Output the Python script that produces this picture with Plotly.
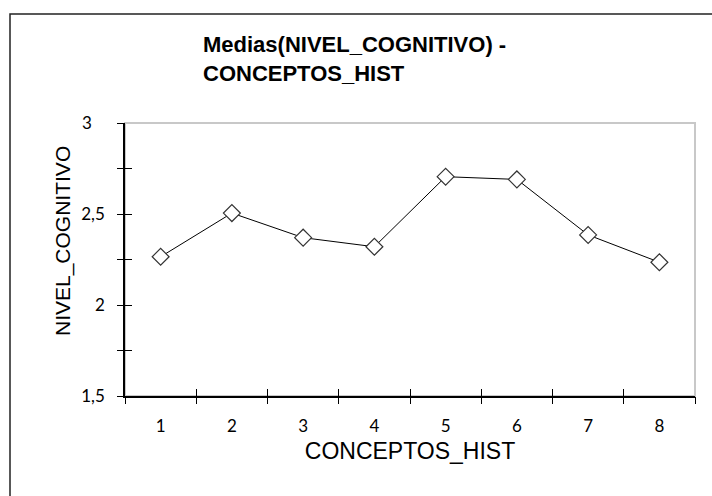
import plotly.graph_objects as go

# Mean cognitive level per historical concept
conceptos = [1, 2, 3, 4, 5, 6, 7, 8]
nivel_medio = [2.265, 2.505, 2.37, 2.32, 2.705, 2.69, 2.385, 2.235]
y_ticks = [1.5, 2, 2.5, 3]
y_ticktext = ["1,5", "2", "2,5", "3\u00a0\u00a0\u00a0"]

W, H = 712, 496
ML, MR, MT, MB = 125, 17, 123, 100
pw, ph = W - ML - MR, H - MT - MB

fig = go.Figure()
fig.add_trace(go.Scatter(
    x=conceptos, y=nivel_medio, mode="lines+markers",
    line=dict(color="black", width=1),
    marker=dict(symbol="diamond", size=13, color="white",
                line=dict(color="#333333", width=1.2)),
    showlegend=False, hoverinfo="x+y",
))
# helper traces so the overlay axes (cross tick marks) are drawn
for ax in ("2", "3"):
    fig.add_trace(go.Scatter(x=conceptos, y=nivel_medio, xaxis="x" + ax, yaxis="y" + ax,
                             mode="markers", marker=dict(opacity=0), showlegend=False,
                             hoverinfo="skip"))

xr = [0.5, 8.5]
yr = [1.5, 3]
tickfont = dict(family="Lato", size=17, color="black")
bounds = [i + 0.5 for i in range(0, 9)]
minor_y = [1.5 + 0.25 * i for i in range(7)]


def tick_axis(rng, vals, kind, overlay, anchor, side):
    return dict(range=rng, overlaying=overlay, anchor=anchor, side=side,
                tickvals=vals, ticks=kind, ticklen=7, tickwidth=1.2,
                tickcolor="black", showticklabels=False, showgrid=False,
                zeroline=False, showline=False)


fig.update_layout(
    width=W, height=H,
    margin=dict(l=ML, r=MR, t=MT, b=MB),
    paper_bgcolor="white", plot_bgcolor="white",
    title=dict(
        text="Medias(NIVEL_COGNITIVO) -<br>CONCEPTOS_HIST",
        font=dict(family="Liberation Sans", size=22, color="black", weight="bold"),
        xref="container", yref="container",
        x=203 / W, xanchor="left", y=1 - 52 / H, yanchor="top",
    ),
    xaxis=dict(
        range=xr, tickvals=conceptos, ticktext=[str(c) for c in conceptos],
        ticks="", showgrid=False, zeroline=False,
        showline=True, linecolor="black", linewidth=1.5,
        tickfont=tickfont, ticklabelstandoff=14,
        title=dict(text="CONCEPTOS_HIST",
                   font=dict(family="Liberation Sans", size=23, color="black"),
                   standoff=8),
    ),
    xaxis2=tick_axis(xr, bounds, "outside", "x", "y", "bottom"),
    xaxis3=tick_axis(xr, bounds, "inside", "x", "y", "bottom"),
    yaxis=dict(
        range=yr, tickvals=y_ticks, ticktext=y_ticktext,
        ticks="", showgrid=False, zeroline=False,
        showline=True, linecolor="black", linewidth=1.5,
        tickfont=tickfont, ticklabelstandoff=15,
    ),
    yaxis2=tick_axis(yr, minor_y, "outside", "y", "x", "left"),
    yaxis3=tick_axis(yr, minor_y, "inside", "y", "x", "left"),
    annotations=[
        dict(text="NIVEL_COGNITIVO", textangle=-90, showarrow=False,
             xref="paper", yref="paper",
             x=(63 - ML) / pw, y=1 - (241 - MT) / ph,
             xanchor="center", yanchor="middle",
             font=dict(family="Liberation Sans", size=21, color="black")),
    ],
    shapes=[
        # light grey plot-area frame (top and right edges visible)
        dict(type="rect", xref="x domain", yref="y domain", x0=0, x1=1, y0=0, y1=1,
             line=dict(color="#c8c8c8", width=2), layer="below"),
        # outer chart frame, continuing past the right and bottom edges
        dict(type="rect", xref="paper", yref="paper",
             x0=(10 - ML) / pw, x1=(W + 20 - ML) / pw,
             y0=-(MB + 20) / ph, y1=1 + (MT - 14) / ph,
             line=dict(color="#222222", width=1.5), layer="below"),
    ],
)

fig.write_html("out.html")
